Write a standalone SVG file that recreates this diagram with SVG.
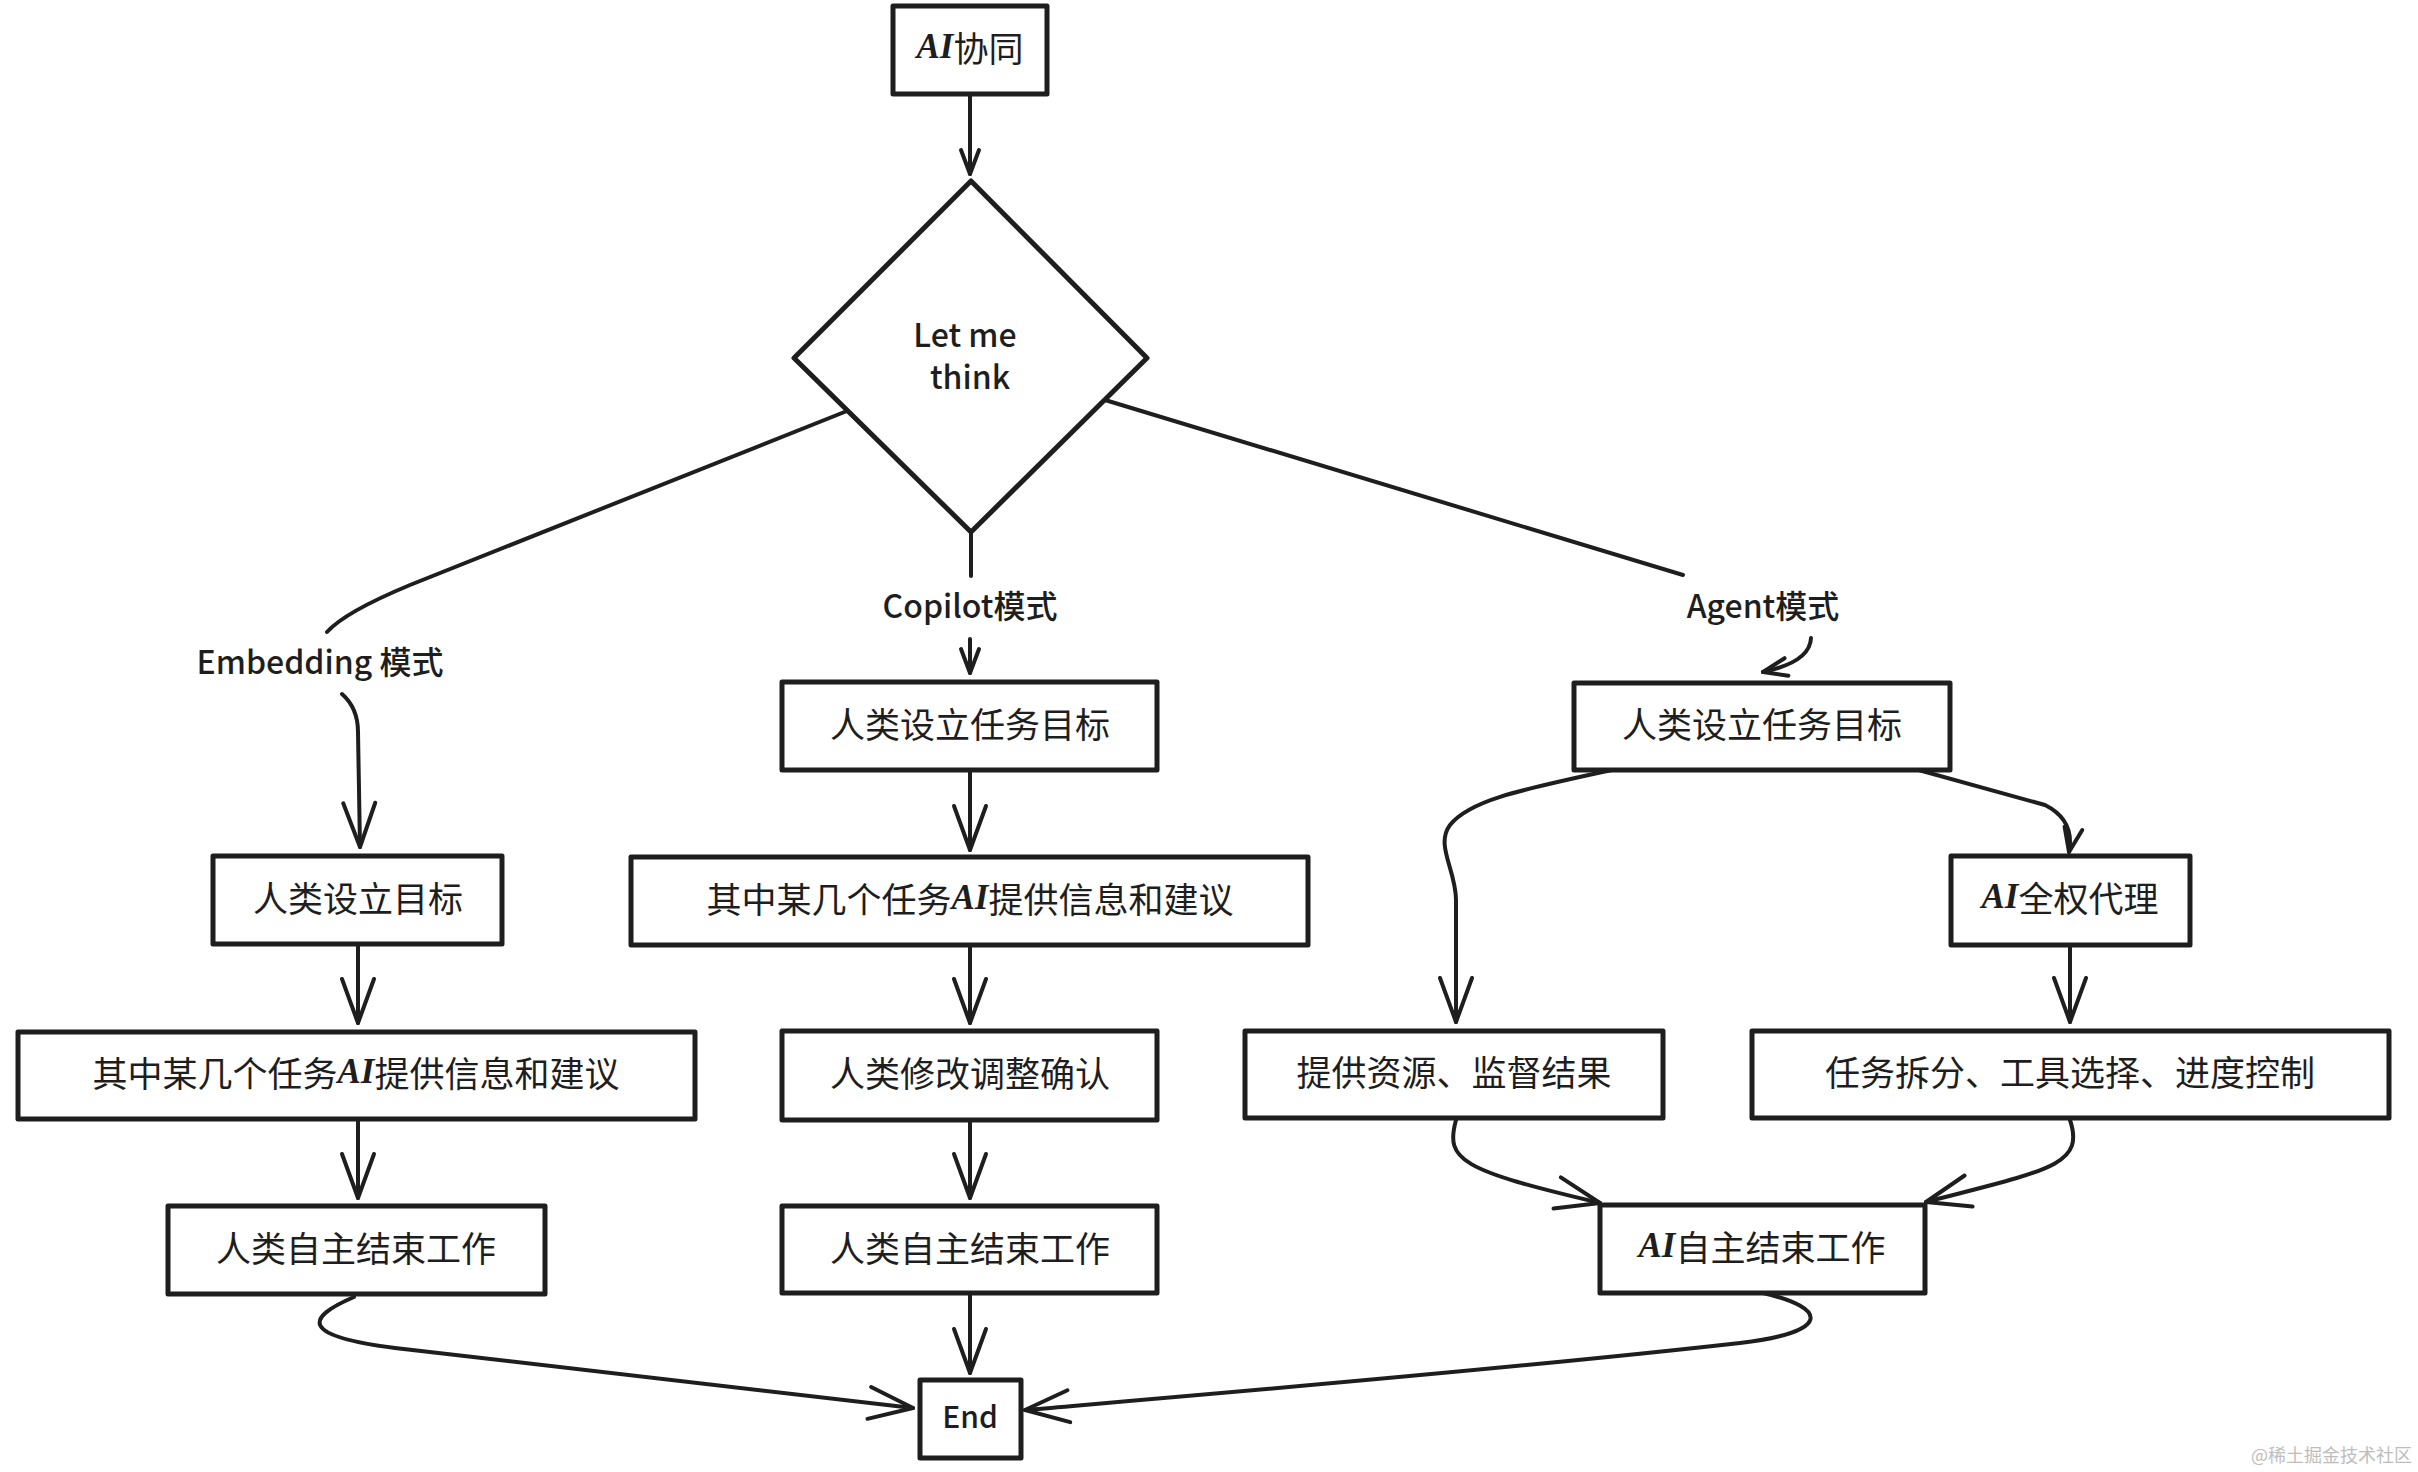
<svg xmlns="http://www.w3.org/2000/svg" width="2418" height="1472" viewBox="0 0 2418 1472">
<defs>
<style>
.box{fill:#ffffff;stroke:#1e1e1e;stroke-width:5;stroke-linejoin:round}
.lbl{font-family:"Noto Sans CJK SC","Noto Sans",sans-serif;font-size:35px;fill:#1e1e1e;text-anchor:middle;dominant-baseline:central}
.elbl{font-family:"Noto Sans CJK SC","Noto Sans",sans-serif;font-size:32px;font-weight:500;fill:#1e1e1e;text-anchor:middle;dominant-baseline:central}
.ai{font-family:"Liberation Serif",serif;font-style:italic;font-weight:bold}
.conn{fill:none;stroke:#1e1e1e;stroke-width:4;stroke-linecap:round;stroke-linejoin:round}
.arr{marker-end:url(#ah)}
.arrs{marker-end:url(#ahs)}
.wm{font-family:"Noto Sans CJK SC",sans-serif;font-size:18px;fill:#bdbdbd;text-anchor:end}
</style>
<marker id="ah" viewBox="0 0 52 40" refX="48" refY="20" markerWidth="52" markerHeight="40" markerUnits="userSpaceOnUse" orient="auto">
<path d="M4,4 L48,20 L4,36" fill="none" stroke="#1e1e1e" stroke-width="4" stroke-linecap="round" stroke-linejoin="round"/>
</marker>
<marker id="ahs" viewBox="0 0 30 24" refX="27" refY="12" markerWidth="30" markerHeight="24" markerUnits="userSpaceOnUse" orient="auto">
<path d="M3,3 L27,12 L3,21" fill="none" stroke="#1e1e1e" stroke-width="4" stroke-linecap="round" stroke-linejoin="round"/>
</marker>
</defs>
<rect width="2418" height="1472" fill="#ffffff"/>

<g id="connectors">
<path class="conn arrs" d="M970,94 L970,174"/>
<path class="conn" d="M847,411 L410,585 Q345,612 327,632"/>
<path class="conn arr" d="M342,694 Q358,708 358,732 L360,847"/>
<path class="conn" d="M971,532 L971,576"/>
<path class="conn arrs" d="M970,639 L970,673"/>
<path class="conn" d="M1105,400 L1683,575"/>
<path class="conn arrs" d="M1811,638 Q1810,662 1763,672"/>
<path class="conn arr" d="M358,944 L358,1023"/>
<path class="conn arr" d="M358,1119 L358,1198"/>
<path class="conn arr" d="M970,770 L970,850"/>
<path class="conn arr" d="M970,945 L970,1023"/>
<path class="conn arr" d="M970,1120 L970,1198"/>
<path class="conn arr" d="M970,1293 L970,1373"/>
<path class="conn arr" d="M354,1297 C305,1318 300,1336 395,1348 L913,1408"/>
<path class="conn arr" d="M1763,1293 C1828,1308 1832,1332 1740,1343 C1500,1370 1200,1395 1025,1410"/>
<path class="conn arr" d="M1612,770 C1520,790 1470,800 1450,825 C1435,845 1456,870 1456,900 L1456,1022"/>
<path class="conn arrs" d="M1915,769 L2045,805 Q2075,820 2069,852"/>
<path class="conn arr" d="M2070,945 L2070,1022"/>
<path class="conn arr" d="M1456,1120 C1445,1160 1460,1170 1600,1203"/>
<path class="conn arr" d="M2070,1120 C2085,1165 2050,1170 1926,1202"/>
<text class="elbl" x="320" y="660">Embedding 模式</text>
<text class="elbl" x="970" y="604">Copilot模式</text>
<text class="elbl" x="1763" y="604">Agent模式</text>
</g>

<g id="n-start">
<rect class="box" x="893" y="6" width="154" height="88"/>
<text class="lbl" x="970" y="46"><tspan class="ai">AI</tspan>协同</text>
</g>
<g id="n-think">
<polygon class="box" points="971,181 1147,358 971,532 794,358"/>
<text class="elbl" x="965" y="333">Let me</text>
<text class="elbl" x="970" y="375">think</text>
</g>

<g id="n-l1">
<rect class="box" x="213" y="856" width="289" height="88"/>
<text class="lbl" x="358" y="896">人类设立目标</text>
</g>
<g id="n-l2">
<rect class="box" x="18" y="1032" width="677" height="87"/>
<text class="lbl" x="356" y="1071">其中某几个任务<tspan class="ai">AI</tspan>提供信息和建议</text>
</g>
<g id="n-l3">
<rect class="box" x="168" y="1206" width="377" height="88"/>
<text class="lbl" x="356" y="1246">人类自主结束工作</text>
</g>

<g id="n-m1">
<rect class="box" x="782" y="682" width="375" height="88"/>
<text class="lbl" x="970" y="722">人类设立任务目标</text>
</g>
<g id="n-m2">
<rect class="box" x="631" y="857" width="677" height="88"/>
<text class="lbl" x="970" y="897">其中某几个任务<tspan class="ai">AI</tspan>提供信息和建议</text>
</g>
<g id="n-m3">
<rect class="box" x="782" y="1031" width="375" height="89"/>
<text class="lbl" x="970" y="1071">人类修改调整确认</text>
</g>
<g id="n-m4">
<rect class="box" x="782" y="1206" width="375" height="87"/>
<text class="lbl" x="970" y="1246">人类自主结束工作</text>
</g>
<g id="n-end">
<rect class="box" x="920" y="1380" width="101" height="78"/>
<text class="elbl" x="970" y="1415" style="font-size:30px">End</text>
</g>

<g id="n-r1">
<rect class="box" x="1574" y="683" width="376" height="87"/>
<text class="lbl" x="1762" y="722">人类设立任务目标</text>
</g>
<g id="n-r2">
<rect class="box" x="1951" y="856" width="239" height="89"/>
<text class="lbl" x="2070" y="896"><tspan class="ai">AI</tspan>全权代理</text>
</g>
<g id="n-r3">
<rect class="box" x="1245" y="1031" width="418" height="87"/>
<text class="lbl" x="1454" y="1070">提供资源、监督结果</text>
</g>
<g id="n-r4">
<rect class="box" x="1752" y="1031" width="637" height="87"/>
<text class="lbl" x="2070" y="1070">任务拆分、工具选择、进度控制</text>
</g>
<g id="n-r5">
<rect class="box" x="1600" y="1205" width="325" height="88"/>
<text class="lbl" x="1762" y="1245"><tspan class="ai">AI</tspan>自主结束工作</text>
</g>

<text class="wm" x="2412" y="1462">@稀土掘金技术社区</text>
</svg>
